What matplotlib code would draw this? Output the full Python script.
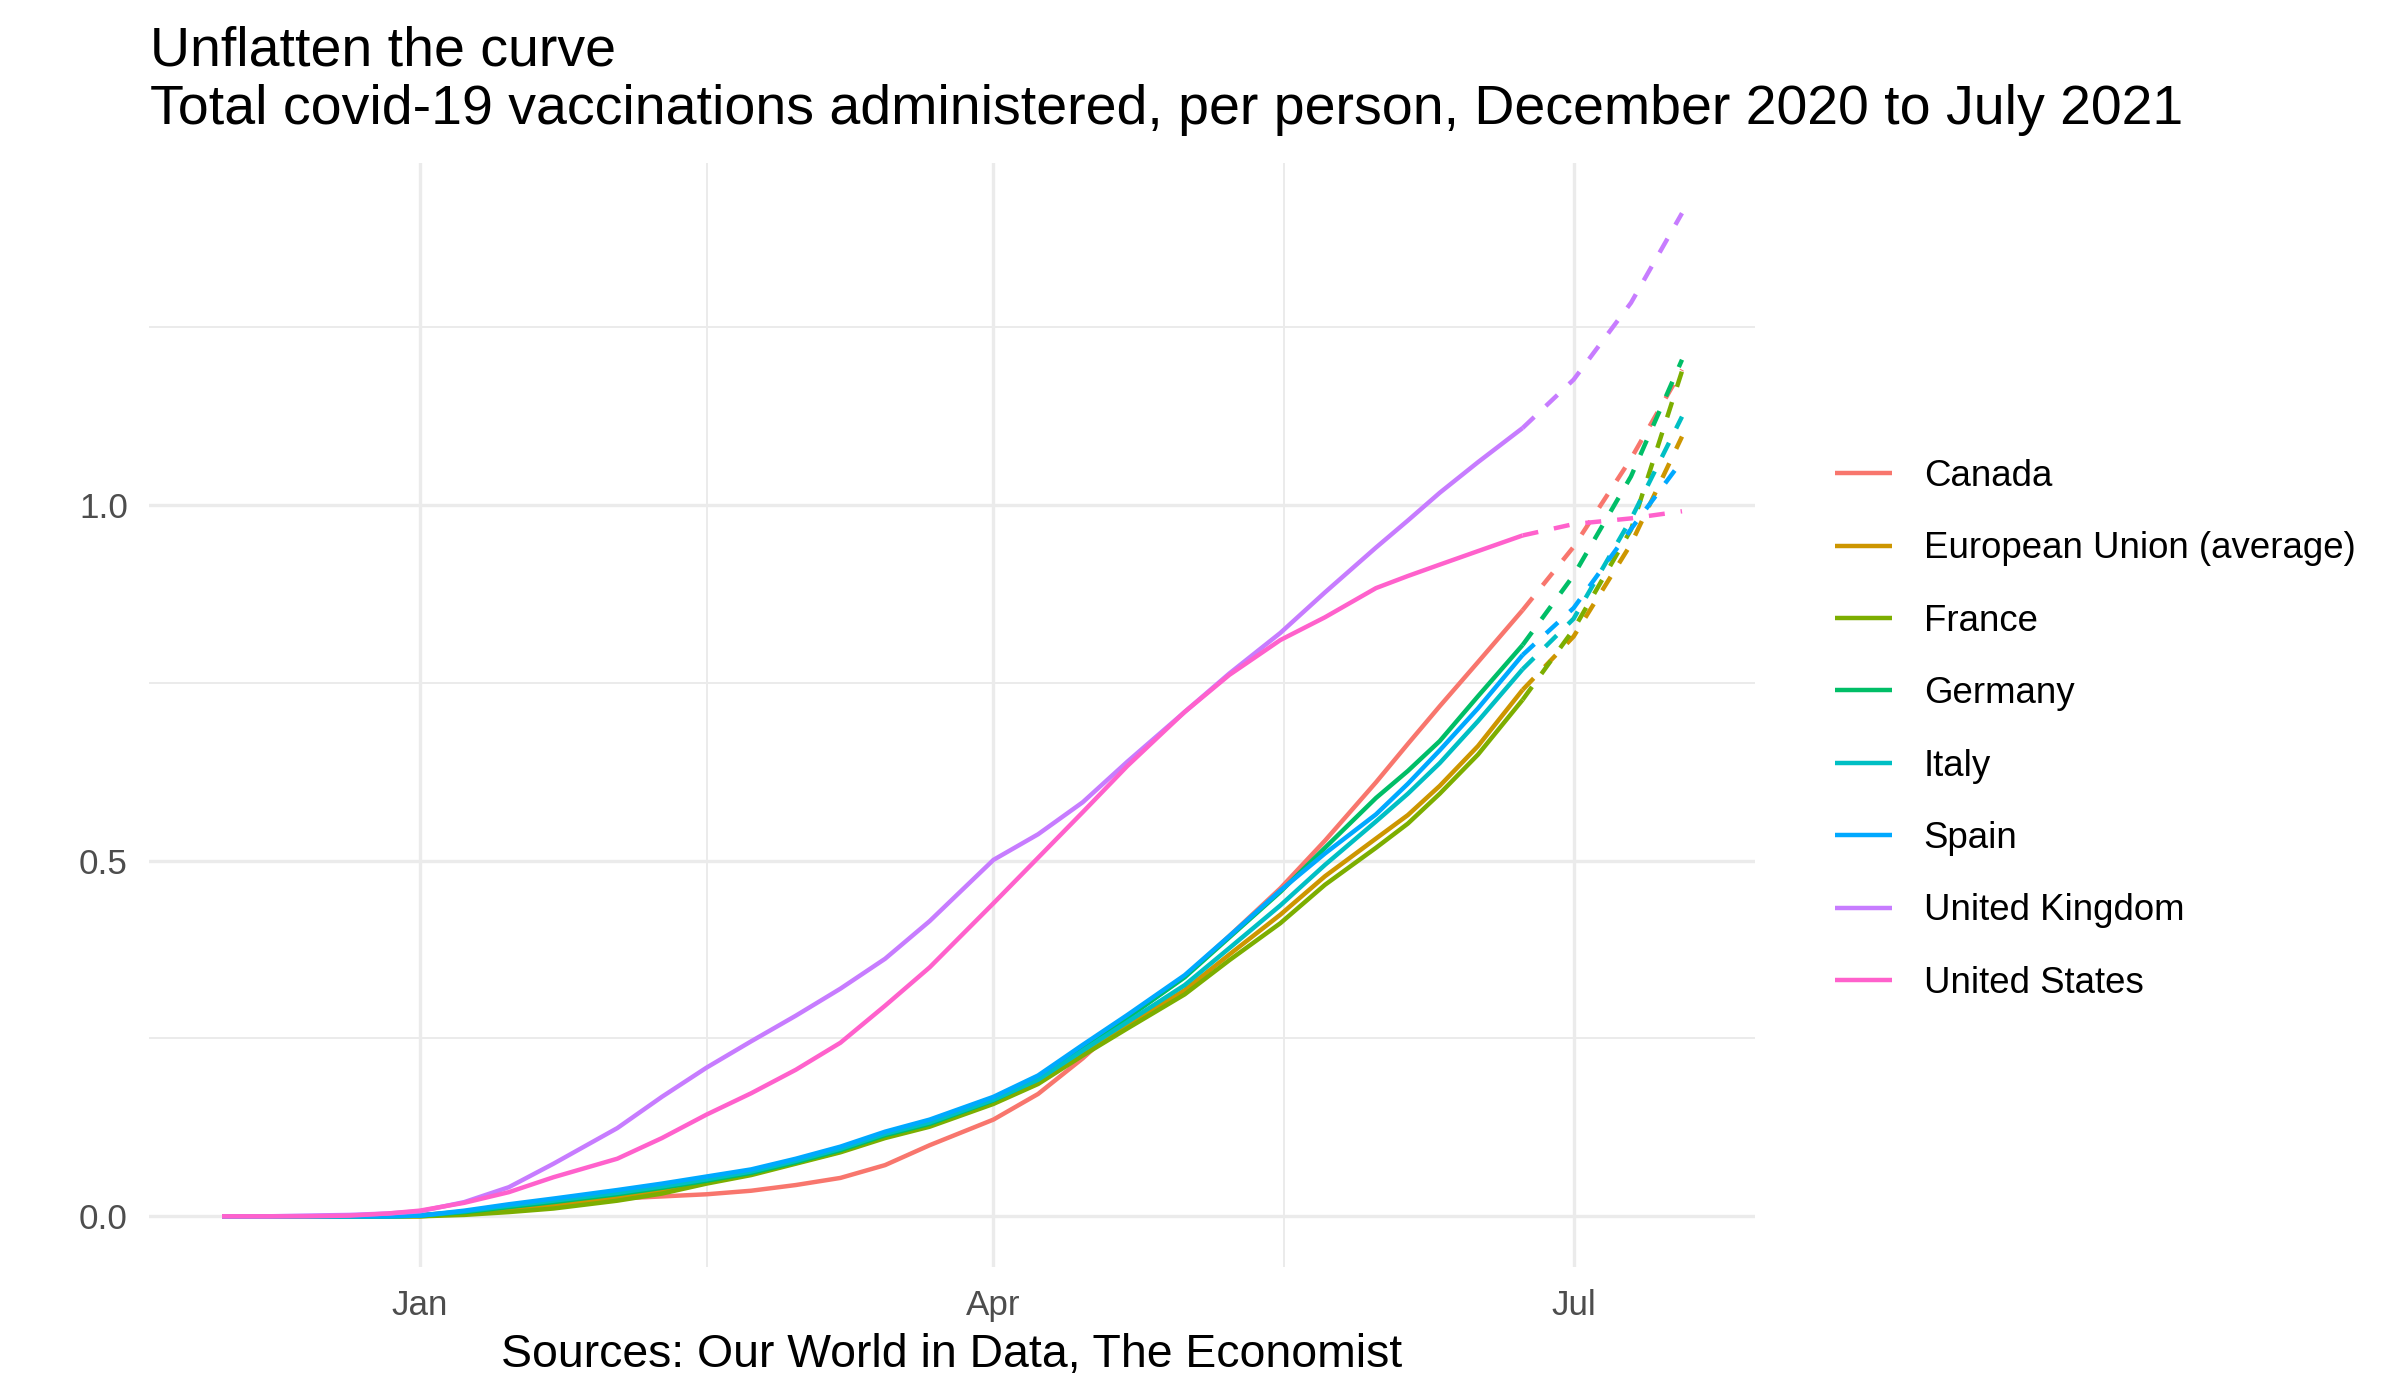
import datetime as dt

import matplotlib
matplotlib.use("Agg")
import matplotlib.pyplot as plt
import matplotlib.dates as mdates
from matplotlib.ticker import FixedLocator, MultipleLocator, FuncFormatter

plt.rcParams["font.family"] = ["Liberation Sans", "DejaVu Sans"]

# ---------- Data --------------------------------------------------------------

countries = ["Canada", "European Union (average)", "France", "Germany",
             "Italy", "Spain", "United Kingdom", "United States"]

colours = ["#F8766D", "#CD9600", "#7CAE00", "#00BE67",
           "#00BFC4", "#00A9FF", "#C77CFF", "#FF61CC"]

solid_dates = ["2020-12-01", "2020-12-08", "2020-12-14", "2020-12-21", "2020-12-27",
               "2021-01-01", "2021-01-08", "2021-01-15", "2021-01-22", "2021-02-01",
               "2021-02-08", "2021-02-15", "2021-02-22", "2021-03-01", "2021-03-08",
               "2021-03-15", "2021-03-22", "2021-04-01", "2021-04-08", "2021-04-15",
               "2021-04-22", "2021-05-01", "2021-05-08", "2021-05-16", "2021-05-23",
               "2021-05-31", "2021-06-05", "2021-06-10", "2021-06-16", "2021-06-23"]

proj_dates = ["2021-06-23", "2021-07-01", "2021-07-10", "2021-07-18"]

canada = [0, 0, 0, 0, 0.001, 0.002, 0.006, 0.012, 0.018, 0.025,
          0.028, 0.031, 0.036, 0.044, 0.054, 0.072, 0.100, 0.136, 0.172, 0.222,
          0.279, 0.337, 0.394, 0.461, 0.528, 0.610, 0.664, 0.717, 0.779, 0.852]
eu = [0, 0, 0, 0, 0, 0.0, 0.004, 0.009, 0.015, 0.026,
      0.036, 0.048, 0.060, 0.075, 0.091, 0.112, 0.128, 0.160, 0.188, 0.228,
      0.268, 0.318, 0.368, 0.424, 0.478, 0.531, 0.564, 0.605, 0.661, 0.740]
france = [0, 0, 0, 0, 0, 0.0, 0.002, 0.006, 0.011, 0.022,
          0.032, 0.046, 0.058, 0.074, 0.090, 0.110, 0.126, 0.158, 0.186, 0.226,
          0.264, 0.312, 0.360, 0.412, 0.466, 0.518, 0.552, 0.594, 0.649, 0.726]
germany = [0, 0, 0, 0, 0, 0.001, 0.006, 0.013, 0.020, 0.031,
           0.040, 0.050, 0.061, 0.076, 0.093, 0.114, 0.130, 0.163, 0.193, 0.236,
           0.279, 0.336, 0.392, 0.456, 0.518, 0.588, 0.626, 0.668, 0.731, 0.803]
italy = [0, 0, 0, 0, 0, 0.001, 0.007, 0.015, 0.022, 0.033,
         0.042, 0.052, 0.063, 0.078, 0.095, 0.116, 0.132, 0.164, 0.192, 0.233,
         0.273, 0.325, 0.377, 0.437, 0.494, 0.555, 0.594, 0.637, 0.696, 0.769]
spain = [0, 0, 0, 0, 0, 0.001, 0.008, 0.017, 0.025, 0.037,
         0.046, 0.056, 0.066, 0.081, 0.098, 0.119, 0.136, 0.168, 0.198, 0.241,
         0.283, 0.339, 0.394, 0.458, 0.510, 0.565, 0.608, 0.655, 0.714, 0.789]
uk = [0, 0, 0.001, 0.002, 0.004, 0.007, 0.020, 0.041, 0.074, 0.124,
      0.168, 0.209, 0.246, 0.282, 0.320, 0.362, 0.415, 0.501, 0.537, 0.582,
      0.639, 0.709, 0.763, 0.820, 0.877, 0.940, 0.978, 1.017, 1.060, 1.108]
us = [0, 0, 0, 0.001, 0.004, 0.008, 0.019, 0.034, 0.055, 0.081,
      0.110, 0.143, 0.173, 0.206, 0.244, 0.296, 0.350, 0.440, 0.504, 0.568,
      0.633, 0.709, 0.761, 0.810, 0.842, 0.883, 0.900, 0.916, 0.935, 0.957]

canada_proj = [0.852, 0.941, 1.065, 1.190]
eu_proj = [0.740, 0.815, 0.945, 1.096]
france_proj = [0.726, 0.825, 0.965, 1.188]
germany_proj = [0.803, 0.901, 1.040, 1.204]
italy_proj = [0.769, 0.840, 0.980, 1.124]
spain_proj = [0.789, 0.855, 0.966, 1.062]
uk_proj = [1.108, 1.176, 1.284, 1.410]
us_proj = [0.957, 0.973, 0.981, 0.991]

solid = [canada, eu, france, germany, italy, spain, uk, us]
projected = [canada_proj, eu_proj, france_proj, germany_proj,
             italy_proj, spain_proj, uk_proj, us_proj]

# ---------- Figure -------------------------------------------------------------

W, H = 2399, 1376
fig = plt.figure(figsize=(W / 200, H / 200), dpi=200)
ax = fig.add_axes([149 / W, 1 - 1266.5 / H, (1755 - 149) / W, (1266.5 - 163) / H])

to_dt = lambda seq: [dt.datetime.strptime(s, "%Y-%m-%d") for s in seq]
x_solid = to_dt(solid_dates)
x_proj = to_dt(proj_dates)

lw = 1.6
for name, col, ys in zip(countries, colours, solid):
    ax.plot(x_solid, ys, color=col, lw=lw, label=name, solid_capstyle="butt")
for col, ys in zip(colours, projected):
    ax.plot(x_proj, ys, color=col, lw=lw, linestyle=(0, (3.6, 3.6)),
            dash_capstyle="butt")

# ggplot-style 5% expansion
x0, x1 = mdates.date2num(x_solid[0]), mdates.date2num(x_proj[-1])
pad = 0.05 * (x1 - x0)
ax.set_xlim(x0 - pad, x1 + pad)
ymax = max(max(s) for s in projected)
ax.set_ylim(-0.05 * ymax, 1.05 * ymax)

majors = mdates.date2num(to_dt(["2021-01-01", "2021-04-01", "2021-07-01"]))
ax.xaxis.set_major_locator(FixedLocator(majors))
ax.xaxis.set_minor_locator(FixedLocator([(a + b) / 2 for a, b in zip(majors[:-1], majors[1:])]))
ax.xaxis.set_major_formatter(mdates.DateFormatter("%b"))
ax.yaxis.set_major_locator(MultipleLocator(0.5))
ax.yaxis.set_minor_locator(MultipleLocator(0.25))
ax.yaxis.set_major_formatter(FuncFormatter(lambda v, _: f"{v:.1f}"))

ax.grid(which="major", color="#EBEBEB", lw=1.2)
ax.grid(which="minor", color="#EBEBEB", lw=0.7)
ax.set_axisbelow(True)
for sp in ax.spines.values():
    sp.set_visible(False)
ax.tick_params(which="both", length=0, labelsize=12.6, labelcolor="#4D4D4D")
ax.tick_params(axis="y", pad=7.6)
ax.tick_params(axis="x", pad=8.2)

# ---------- Legend & text ------------------------------------------------------

ax.legend(loc="upper left", bbox_to_anchor=(1835 / W, 1 - 459 / H),
          bbox_transform=fig.transFigure, frameon=False, fontsize=13.2,
          borderpad=0, borderaxespad=0, handlelength=1.55, handletextpad=0.87,
          labelspacing=1.02)

fig.text(150 / W, 1 - 65 / H, "Unflatten the curve", fontsize=20,
         va="baseline", ha="left")
fig.text(150 / W, 1 - 124 / H,
         "Total covid-19 vaccinations administered, per person, December 2020 to July 2021",
         fontsize=20, va="baseline", ha="left")
fig.text((149 + 1755) / 2 / W, 1 - 1367 / H, "Sources: Our World in Data, The Economist",
         fontsize=16.7, va="baseline", ha="center")

fig.savefig("out.png", dpi=200, facecolor="white")
